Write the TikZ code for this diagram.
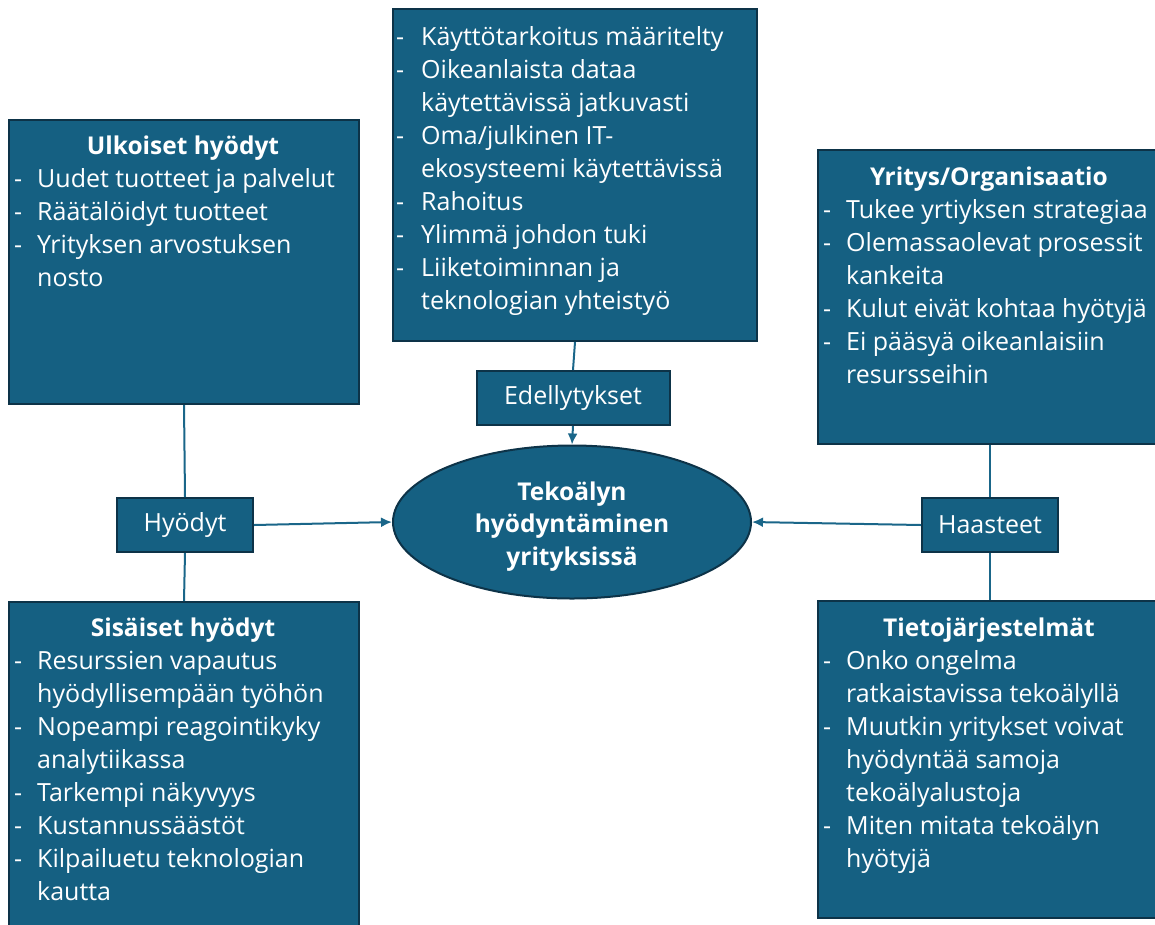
\documentclass[tikz,border=0pt]{standalone}
\usepackage{fontspec}
\setmainfont{Open Sans}
\usetikzlibrary{arrows.meta,shapes.geometric}

\definecolor{boxfill}{HTML}{156082}
\definecolor{boxedge}{HTML}{0D3348}
\definecolor{wire}{HTML}{1A6689}

\tikzset{
  panel/.style={draw=boxedge, line width=2pt, fill=boxfill, anchor=north west,
                inner sep=0pt, minimum width=#1},
  label/.style={draw=boxedge, line width=2pt, fill=boxfill, inner sep=0pt,
                minimum width=136, minimum height=54, text=white, font=\fontsize{25}{30}\selectfont},
  ln/.style={anchor=base west, inner sep=0pt, text=white, font=\fontsize{25}{30}\selectfont},
  ttl/.style={anchor=base, inner sep=0pt, text=white, font=\fontsize{24.5}{30}\selectfont\bfseries},
  wire/.style={draw=wire, line width=2pt},
  arr/.style={wire, -{Latex[length=11pt,width=10pt]}},
}

\begin{document}
\begin{tikzpicture}[x=1pt, y=-1pt]
  \useasboundingbox (0,0) rectangle (1155,924);
  \clip (0,0) rectangle (1155,924);

  % ---- prerequisites panel (top) ----
  \node[panel=364, minimum height=332] (pre) at (392,8) {};
  \node[ln] (pre-d1) at (396,45)  {-};
  \node[ln] (pre-1)  at (421,45)  {Käyttötarkoitus määritelty};
  \node[ln] (pre-d2) at (396,78)  {-};
  \node[ln] (pre-2)  at (421,78)  {Oikeanlaista dataa};
  \node[ln] (pre-3)  at (421,111) {käytettävissä jatkuvasti};
  \node[ln] (pre-d4) at (396,144) {-};
  \node[ln] (pre-4)  at (421,144) {Oma/julkinen IT-};
  \node[ln] (pre-5)  at (421,177) {ekosysteemi käytettävissä};
  \node[ln] (pre-d6) at (396,210) {-};
  \node[ln] (pre-6)  at (421,210) {Rahoitus};
  \node[ln] (pre-d7) at (396,243) {-};
  \node[ln] (pre-7)  at (421,243) {Ylimmä johdon tuki};
  \node[ln] (pre-d8) at (396,276) {-};
  \node[ln] (pre-8)  at (421,276) {Liiketoiminnan ja};
  \node[ln] (pre-9)  at (421,309) {teknologian yhteistyö};

  % ---- external benefits panel (top left) ----
  \node[panel=350, minimum height=284] (ext) at (8,119) {};
  \node[ttl] (ext-t) at (183,154) {Ulkoiset hyödyt};
  \node[ln] (ext-d1) at (14,187) {-};
  \node[ln] (ext-1)  at (37,187) {Uudet tuotteet ja palvelut};
  \node[ln] (ext-d2) at (14,220) {-};
  \node[ln] (ext-2)  at (37,220) {Räätälöidyt tuotteet};
  \node[ln] (ext-d3) at (14,253) {-};
  \node[ln] (ext-3)  at (37,253) {Yrityksen arvostuksen};
  \node[ln] (ext-4)  at (37,286) {nosto};

  % ---- internal benefits panel (bottom left) ----
  \node[panel=350, minimum height=340] (int) at (8,601) {};
  \node[ttl] (int-t) at (183,636) {Sisäiset hyödyt};
  \node[ln] (int-d1) at (14,669) {-};
  \node[ln] (int-1)  at (37,669) {Resurssien vapautus};
  \node[ln] (int-2)  at (37,702) {hyödyllisempään työhön};
  \node[ln] (int-d3) at (14,735) {-};
  \node[ln] (int-3)  at (37,735) {Nopeampi reagointikyky};
  \node[ln] (int-4)  at (37,768) {analytiikassa};
  \node[ln] (int-d5) at (14,801) {-};
  \node[ln] (int-5)  at (37,801) {Tarkempi näkyvyys};
  \node[ln] (int-d6) at (14,834) {-};
  \node[ln] (int-6)  at (37,834) {Kustannussäästöt};
  \node[ln] (int-d7) at (14,867) {-};
  \node[ln] (int-7)  at (37,867) {Kilpailuetu teknologian};
  \node[ln] (int-8)  at (37,900) {kautta};

  % ---- organisation panel (top right) ----
  \node[panel=344, minimum height=294] (org) at (817,149) {};
  \node[ttl] (org-t) at (989,185) {Yritys/Organisaatio};
  \node[ln] (org-d1) at (823,218) {-};
  \node[ln] (org-1)  at (846,218) {Tukee yrtiyksen strategiaa};
  \node[ln] (org-d2) at (823,251) {-};
  \node[ln] (org-2)  at (846,251) {Olemassaolevat prosessit};
  \node[ln] (org-3)  at (846,284) {kankeita};
  \node[ln] (org-d4) at (823,317) {-};
  \node[ln] (org-4)  at (846,317) {Kulut eivät kohtaa hyötyjä};
  \node[ln] (org-d5) at (823,350) {-};
  \node[ln] (org-5)  at (846,350) {Ei pääsyä oikeanlaisiin};
  \node[ln] (org-6)  at (846,383) {resursseihin};

  % ---- information systems panel (bottom right) ----
  \node[panel=344, minimum height=317] (sys) at (817,600) {};
  \node[ttl] (sys-t) at (989,636) {Tietojärjestelmät};
  \node[ln] (sys-d1) at (823,669) {-};
  \node[ln] (sys-1)  at (846,669) {Onko ongelma};
  \node[ln] (sys-2)  at (846,702) {ratkaistavissa tekoälyllä};
  \node[ln] (sys-d3) at (823,735) {-};
  \node[ln] (sys-3)  at (846,735) {Muutkin yritykset voivat};
  \node[ln] (sys-4)  at (846,768) {hyödyntää samoja};
  \node[ln] (sys-5)  at (846,801) {tekoälyalustoja};
  \node[ln] (sys-d6) at (823,834) {-};
  \node[ln] (sys-6)  at (846,834) {Miten mitata tekoälyn};
  \node[ln] (sys-7)  at (846,867) {hyötyjä};

  % ---- central topic ----
  \node[ellipse, draw=boxedge, line width=2pt, fill=boxfill, inner sep=0pt,
        minimum width=358, minimum height=153] (core) at (572,522) {};
  \node[ttl] (core-1) at (572,500) {Tekoälyn};
  \node[ttl] (core-2) at (572,532) {hyödyntäminen};
  \node[ttl] (core-3) at (572,565) {yrityksissä};

  % ---- category labels ----
  \node[label, minimum width=193] (ed) at (573,398) {Edellytykset};
  \node[label] (hy) at (185,525) {Hyödyt};
  \node[label] (ha) at (990,525) {Haasteet};

  % ---- connectors ----
  \draw[wire] (pre.south) -- (ed.north);
  \draw[arr]  (ed.south) -- (core.north);
  \draw[wire] (ext.south) -- (hy.north);
  \draw[wire] (hy.south) -- (int.north);
  \draw[arr]  (hy.east) -- (core.west);
  \draw[wire] (org.south) -- (ha.north);
  \draw[wire] (ha.south) -- (sys.north);
  \draw[arr]  (ha.west) -- (core.east);
\end{tikzpicture}
\end{document}
